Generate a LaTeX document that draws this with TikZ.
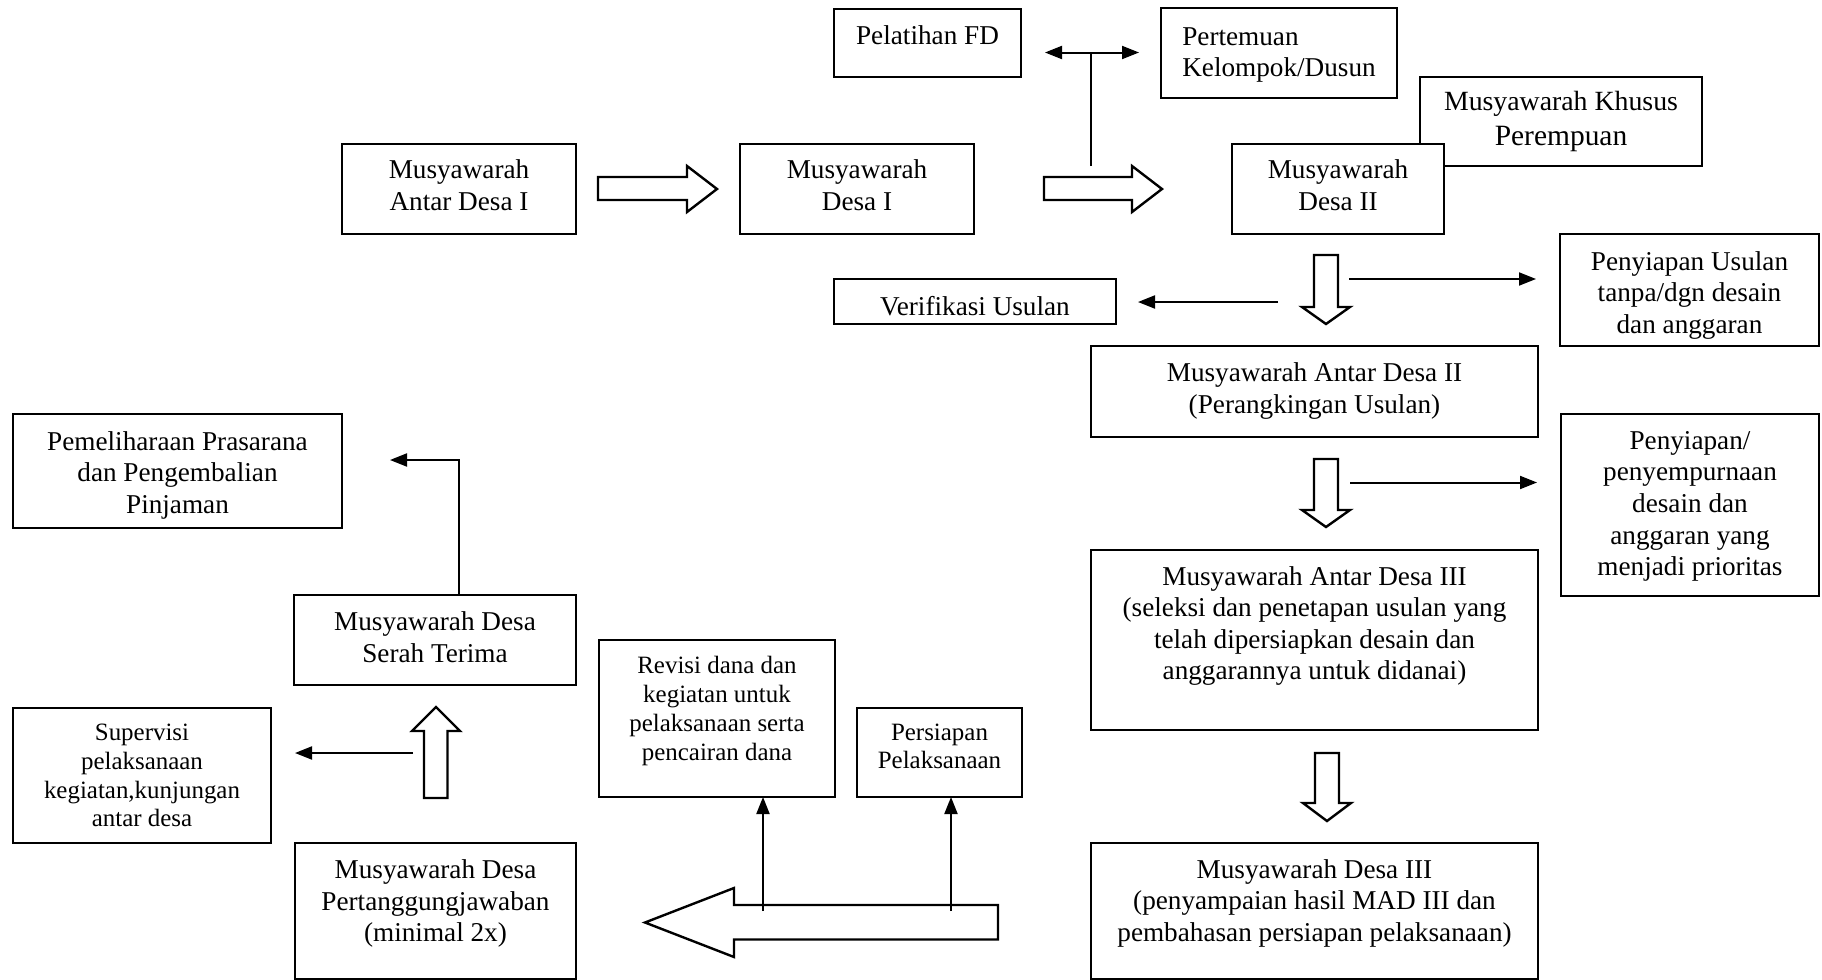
\documentclass[tikz,border=0pt]{standalone}
\usepackage{fontspec}
\setmainfont{Liberation Serif}
\usetikzlibrary{arrows.meta,fit}
\newcommand\fm{\fontsize{13.6pt}{15.8pt}\selectfont}
\newcommand\fsm{\fontsize{12.47pt}{14.35pt}\selectfont}
\newcommand\tl[3][c]{\raisebox{#2}[0pt][0pt]{\begin{tabular}[t]{@{}#1@{}}#3\end{tabular}}}
\begin{document}
\begin{tikzpicture}[x=0.5pt,y=-0.5pt,
  box/.style={draw, line width=1.2pt, fill=white, inner sep=0pt, outer sep=0pt, font=\fm},
  sbox/.style={box, font=\fsm},
  blk/.style={draw, line width=1.2pt, fill=white, line join=miter},
  plain/.style={line width=1pt},
  arr/.style={line width=1pt, -{Triangle[length=8.5pt,width=6.5pt]}},
  darr/.style={line width=1pt, {Triangle[length=8.5pt,width=6.5pt]}-{Triangle[length=8.5pt,width=6.5pt]}}]
\path[use as bounding box, fill=white] (0,0) rectangle (1822,980);

% top row
\node[box, fit={(834,9)(1021,77)}] (pel) {\tl{-0.5pt}{Pelatihan FD}};
\node[box, fit={(1161,8)(1397,98)}] (pert) {\tl[l]{4pt}{Pertemuan\\Kelompok/Dusun}};
\node[box, fit={(1420,77)(1702,166)}] (mkp) {\tl{5.4pt}{{\fontsize{13.9pt}{16pt}\selectfont Musyawarah Khusus}\\[1.6pt]{\fontsize{14.73pt}{16.9pt}\selectfont Perempuan}}};
\node[box, fit={(1232,144)(1444,234)}] (md2) {\tl{5.2pt}{Musyawarah\\Desa II}};
\node[box, fit={(342,144)(576,234)}] (mad1) {\tl{5.2pt}{Musyawarah\\Antar Desa I}};
\node[box, fit={(740,144)(974,234)}] (md1) {\tl{5.2pt}{Musyawarah\\Desa I}};

% right column
\node[box, fit={(834,279)(1116,324)}] (ver) {\tl{-7pt}{Verifikasi Usulan}};
\node[box, fit={(1560,234)(1819,346)}] (pu) {\tl{9.9pt}{Penyiapan Usulan\\tanpa/dgn desain\\dan anggaran}};
\node[box, fit={(1091,346)(1538,437)}] (mad2) {\tl{5pt}{Musyawarah Antar Desa II\\(Perangkingan Usulan)}};
\node[box, fit={(1561,414)(1819,596)}] (pp) {\tl{27.85pt}{Penyiapan/\\penyempurnaan\\desain dan\\anggaran yang\\menjadi prioritas}};
\node[box, fit={(1091,550)(1538,730)}] (mad3) {\tl{27.5pt}{Musyawarah Antar Desa III\\(seleksi dan penetapan usulan yang\\telah dipersiapkan desain dan\\anggarannya untuk didanai)}};
\node[box, fit={(1091,843)(1538,979)}] (md3) {\tl{16.35pt}{Musyawarah Desa III\\(penyampaian hasil MAD III dan\\pembahasan persiapan pelaksanaan)}};

% left part
\node[box, fit={(13,414)(342,528)}] (pem) {\tl{10.5pt}{Pemeliharaan Prasarana\\dan Pengembalian\\Pinjaman}};
\node[box, fit={(294,595)(576,685)}] (st) {\tl{4.65pt}{Musyawarah Desa\\Serah Terima}};
\node[sbox, fit={(13,708)(271,843)}] (sup) {\tl{17.4pt}{Supervisi\\pelaksanaan\\kegiatan,kunjungan\\antar desa}};
\node[sbox, fit={(599,640)(835,797)}] (rev) {\tl{22.3pt}{Revisi dana dan\\kegiatan untuk\\pelaksanaan serta\\pencairan dana}};
\node[sbox, fit={(857,708)(1022,797)}] (pers) {\tl{6.25pt}{Persiapan\\Pelaksanaan}};
\node[box, fit={(295,843)(576,979)}] (ptj) {\tl{16.3pt}{Musyawarah Desa\\Pertanggungjawaban\\(minimal 2x)}};

% block arrows
\draw[blk] (598,177) -- (687,177) -- (687,166) -- (717,189) -- (687,212) -- (687,200) -- (598,200) -- cycle;
\draw[blk] (1044,177) -- (1132,177) -- (1132,166) -- (1162,189) -- (1132,212) -- (1132,200) -- (1044,200) -- cycle;
\draw[blk] (1314,255) -- (1338,255) -- (1338,307) -- (1350,307) -- (1326,324) -- (1302,307) -- (1314,307) -- cycle;
\draw[blk] (1314,459) -- (1338,459) -- (1338,510) -- (1350,510) -- (1326,527) -- (1302,510) -- (1314,510) -- cycle;
\draw[blk] (1315,753) -- (1339,753) -- (1339,803) -- (1351,803) -- (1327,821) -- (1303,803) -- (1315,803) -- cycle;
\draw[blk] (424,798) -- (447.5,798) -- (447.5,731) -- (460,731) -- (436,707) -- (412,731) -- (424,731) -- cycle;
\draw[blk] (998,905) -- (734,905) -- (734,888) -- (645,922.5) -- (734,957) -- (734,939.5) -- (998,939.5) -- cycle;

% thin connectors
\coordinate (tBot) at (1091,166);
\coordinate (tTop) at (1091,52.5);
\coordinate (dL) at (1045,52.5);
\coordinate (dR) at (1139,52.5);
\draw[plain] (tBot) -- (tTop);
\draw[darr] (dL) -- (dR);

\coordinate (vS) at (1278,302);
\coordinate (vE) at (1138,302);
\draw[arr] (vS) -- (vE);

\coordinate (p1S) at (1349,279);
\coordinate (p1E) at (1536,279);
\draw[arr] (p1S) -- (p1E);

\coordinate (p2S) at (1350,482.5);
\coordinate (p2E) at (1537,482.5);
\draw[arr] (p2S) -- (p2E);

\coordinate (stBend) at (459,460);
\coordinate (stEnd) at (390,460);
\draw[arr] (st.north -| stBend) -- (stBend) -- (stEnd);

\coordinate (supS) at (413,753);
\coordinate (supE) at (295,753);
\draw[arr] (supS) -- (supE);

\coordinate (r1) at (763,911);
\coordinate (r2) at (951,911);
\draw[arr] (r1) -- (rev.south -| r1);
\draw[arr] (r2) -- (pers.south -| r2);
\end{tikzpicture}
\end{document}
